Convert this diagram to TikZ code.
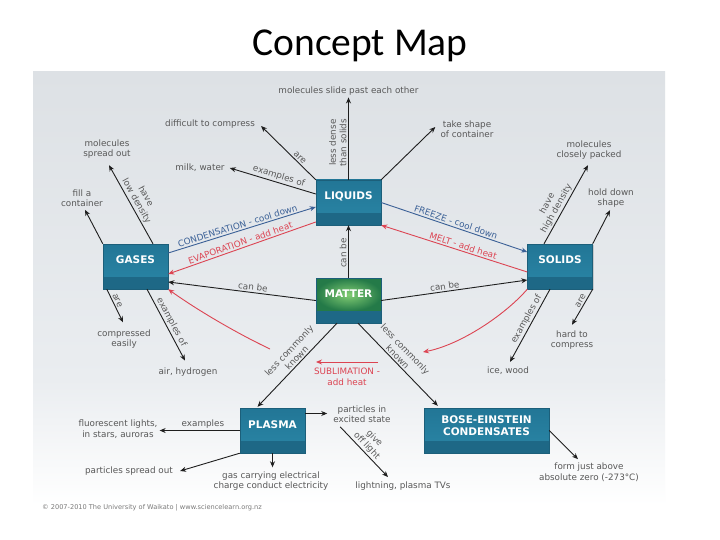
\documentclass[tikz,border=0pt]{standalone}
\usepackage{fontspec}
\newfontfamily\dv{DejaVu Sans}
\newfontfamily\titlefont{Carlito}
\usetikzlibrary{arrows.meta,calc,shadows}
\definecolor{lbl}{RGB}{88,88,88}
\definecolor{redc}{RGB}{220,68,82}
\definecolor{bluec}{RGB}{58,96,150}
\definecolor{teal1}{RGB}{34,118,150}
\definecolor{teal2}{RGB}{42,134,166}
\definecolor{bandc}{RGB}{30,104,134}
\definecolor{edgec}{RGB}{28,95,122}
\definecolor{pg1}{RGB}{221,225,229}
\definecolor{pg2}{RGB}{234,237,240}
\definecolor{mattd}{RGB}{36,122,72}
\definecolor{mattl}{RGB}{130,205,115}
\definecolor{arr}{RGB}{30,30,30}
\tikzset{
 lab/.style={font=\dv\fontsize{8.8}{10.5}\selectfont, text=lbl, align=center, inner sep=2pt},
 elab/.style={lab, sloped, inner sep=1.5pt},
 conn/.style={draw=arr, line width=0.9pt, -{Stealth[length=6pt,width=5pt]}},
 redconn/.style={conn, draw=redc},
 blueconn/.style={conn, draw=bluec},
 cbox/.style={rectangle, minimum width=65pt, minimum height=45pt, inner sep=0pt,
   draw=edgec, line width=0.4pt, top color=teal1, bottom color=teal2,
   path picture={\fill[bandc] (path picture bounding box.south west) rectangle ([yshift=12pt]path picture bounding box.south east);},
   drop shadow={shadow xshift=1pt, shadow yshift=-1pt, opacity=0.3}},
 mbox/.style={cbox,
   path picture={\fill[mattd] (path picture bounding box.south west) rectangle (path picture bounding box.north east);
     \shade[inner color=mattl, outer color=mattd] ([yshift=12pt]path picture bounding box.south west) rectangle (path picture bounding box.north east);
     \fill[bandc] (path picture bounding box.south west) rectangle ([yshift=12pt]path picture bounding box.south east);}},
 boxtext/.style={font=\dv\bfseries\fontsize{10.5}{12}\selectfont, text=white, align=center, inner sep=0pt},
}
\begin{document}
\begin{tikzpicture}[x=1pt,y=-1pt]
\useasboundingbox (0,0) rectangle (720,540);
\fill[white] (0,0) rectangle (720,540);
\shade[top color=pg1, bottom color=pg2] (33,72) rectangle (665,380);
\shade[top color=pg2, bottom color=white] (33,379.5) rectangle (665,505);

\node[font=\titlefont\fontsize{39.5}{46}\selectfont, anchor=base, inner sep=0] (title) at (360,56) {Concept Map};

% boxes
\node[cbox] (liquids) at (348.5,202.5) {};
\node[boxtext] (liquidst) at (348.5,196) {LIQUIDS};
\node[cbox] (gases) at (135.5,266.5) {};
\node[boxtext] (gasest) at (135.5,260) {GASES};
\node[cbox] (solids) at (560,266.5) {};
\node[boxtext] (solidst) at (560,260) {SOLIDS};
\node[mbox] (matter) at (348.5,300.5) {};
\node[boxtext] (mattert) at (348.5,294) {MATTER};
\node[cbox] (plasma) at (272.5,430.5) {};
\node[boxtext] (plasmat) at (272.5,425) {PLASMA};
\node[cbox, minimum width=125pt] (bec) at (486.5,430.5) {};
\node[boxtext] (bect) at (486.5,426) {BOSE-EINSTEIN\\CONDENSATES};

% text nodes
\node[lab] (slide) at (348.5,91) {molecules slide past each other};
\node[lab] (difficult) at (210,124) {difficult to compress};
\node[lab] (take) at (467,129) {take shape\\of container};
\node[lab] (spread) at (107,149) {molecules\\spread out};
\node[lab] (milk) at (200,168) {milk, water};
\node[lab] (fillc) at (82,198) {fill a\\container};
\node[lab] (closely) at (589,150) {molecules\\closely packed};
\node[lab] (hold) at (611,198) {hold down\\shape};
\node[lab] (compressed) at (124,339) {compressed\\easily};
\node[lab] (air) at (188,372) {air, hydrogen};
\node[lab] (ice) at (508,371) {ice, wood};
\node[lab] (hard) at (572,340) {hard to\\compress};
\node[lab] (fluor) at (118,429) {fluorescent lights,\\in stars, auroras};
\node[lab] (pspread) at (129,471) {particles spread out};
\node[lab] (gascarry) at (271,481) {gas carrying electrical\\charge conduct electricity};
\node[lab] (excited) at (362,414) {particles in\\excited state};
\node[lab] (lightning) at (403,486) {lightning, plasma TVs};
\node[lab] (formjust) at (589,472) {form just above\\absolute zero (-273°C)};
\node[lab, text=redc] (sublim) at (347,377) {SUBLIMATION -\\add heat};
\node[font=\dv\fontsize{6.6}{8}\selectfont, text=lbl!80, anchor=west, inner sep=0] (copy) at (42,508) {© 2007-2010 The University of Waikato | www.sciencelearn.org.nz};

% liquids
\draw[conn] (liquids) -- node[elab, above, pos=0.45] {less dense\\than solids} (slide);
\draw[conn] (liquids.north west) -- node[elab, above, pos=0.35] {are} ($(difficult.east)+(4,2)$);
\draw[conn] ($(liquids.west)+(0,-8.5)$) -- node[elab, above, pos=0.45] {examples of} ($(milk.east)+(3,0)$);
\draw[conn] (liquids.north east) -- ($(take.west)+(-3,-2)$);

% gases
\draw[conn] ($(gases.north)+(17.5,0)$) -- node[elab, above, pos=0.5] {have\\low density} ($(spread.south)+(2,4.5)$);
\draw[conn] (gases.north west) -- ($(fillc.south)+(3,1)$);
\draw[conn] ($(gases.south west)+(4,0)$) -- node[elab, above, pos=0.4] {are} ($(compressed.north)+(-1,-5)$);
\draw[conn] ($(gases.south)+(11.5,0)$) -- node[elab, above, pos=0.5] {examples of} ($(air.north)+(-3,-5)$);

% phase changes
\draw[blueconn] ($(gases.east)+(0,-13.5)$) -- node[elab, above, text=bluec, pos=0.48] {CONDENSATION - cool down} ($(liquids.west)+(0,4.5)$);
\draw[redconn] ($(liquids.west)+(0,19.5)$) -- node[elab, above, text=redc, pos=0.5] {EVAPORATION - add heat} ($(gases.east)+(0,7.5)$);
\draw[blueconn] (liquids.east) -- node[elab, above, text=bluec, pos=0.5] {FREEZE - cool down} ($(solids.west)+(0,-14.5)$);
\draw[redconn] ($(solids.west)+(0,5.5)$) -- node[elab, above, text=redc, pos=0.45] {MELT - add heat} (liquids.south east);

% matter
\draw[conn] (matter) -- node[elab, above, pos=0.47] {can be} (liquids);
\draw[conn] (matter.west) -- node[elab, above, pos=0.43] {can be} ($(gases.east)+(0,15.5)$);
\draw[conn] (matter.east) -- node[elab, above, pos=0.44] {can be} ($(solids.west)+(0,13.5)$);
\draw[conn] ($(matter.south)+(-11.5,0)$) -- node[elab, above, pos=0.46] {less commonly\\known} ($(plasma.north)+(-15,-1)$);
\draw[conn] ($(matter.south)+(9.5,0)$) -- node[elab, above, pos=0.45] {less commonly\\known} ($(bec.north west)+(14,-2)$);

% sublimation
\coordinate (s1) at (270,349);
\coordinate (s2) at (423,352);
\coordinate (s3) at (378,362);
\coordinate (s4) at (316,362);
\draw[redconn] (s1) .. controls (230,330) and (190,305) .. (gases.south east);
\draw[redconn] (solids.south west) .. controls (505,315) and (460,345) .. (s2);
\draw[redconn] (s3) -- (s4);

% solids
\draw[conn] ($(solids.south)+(-10,0)$) -- node[elab, above, pos=0.45] {examples of} ($(ice.north)+(2,-3)$);
\draw[conn] (solids.south east) -- node[elab, above, pos=0.4] {are} ($(hard.north)+(0,-3.5)$);
\draw[conn] ($(solids.north)+(-16,0)$) -- node[elab, above, pos=0.41] {have\\high density} ($(closely.south)+(-1,3.5)$);
\draw[conn] (solids.north east) -- ($(hold.south)+(-1,0.5)$);

% plasma
\draw[conn] (plasma.west) -- node[lab, above, pos=0.46] {examples} (plasma.west -| fluor.east);
\draw[conn] (plasma.south west) -- ($(pspread.east)+(5,0)$);
\draw[conn, shorten >=2pt] (plasma.south) -- (plasma.south |- gascarry.north);
\draw[conn] ($(plasma.east)+(0,-17)$) -- ($(excited.west)+(-4,-0.5)$);
\draw[conn] ($(excited.south west)+(9,2)$) -- node[elab, above, pos=0.46] {give\\off light} ($(lightning.north)+(-15,-2.5)$);

% bec
\draw[conn] (bec.east) -- ($(formjust.north)+(-11,-1.5)$);
\end{tikzpicture}
\end{document}
